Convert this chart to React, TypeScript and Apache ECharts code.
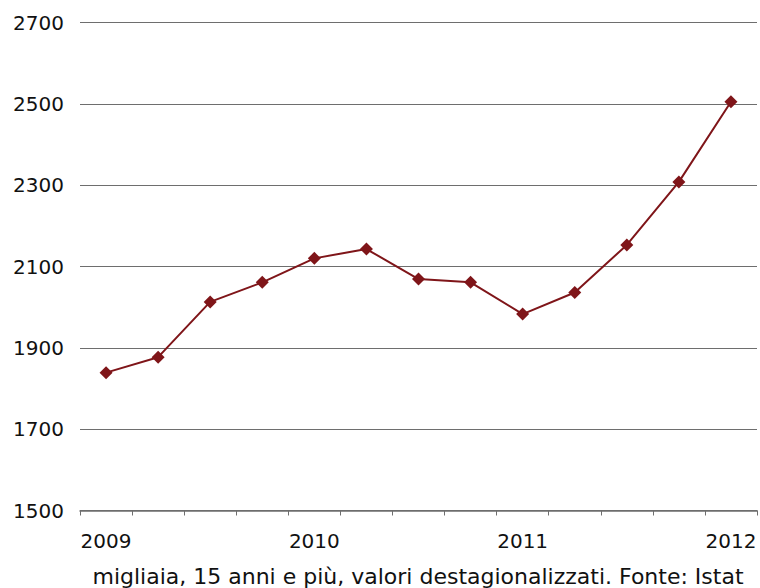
import React, { useEffect, useRef } from "react";
import * as echarts from "echarts";

const quarters = [
  "2009-T1", "2009-T2", "2009-T3", "2009-T4",
  "2010-T1", "2010-T2", "2010-T3", "2010-T4",
  "2011-T1", "2011-T2", "2011-T3", "2011-T4",
  "2012-T1",
];
const values = [1839, 1877, 2013, 2061, 2120, 2143, 2069, 2061, 1983, 2036, 2153, 2308, 2505];
const yMin = 1500;
const yMax = 2700;
const yStep = 200;
const caption = "migliaia, 15 anni e più, valori destagionalizzati. Fonte: Istat";

const FONT = "DejaVu Sans";

export default function App() {
  const ref = useRef<HTMLDivElement>(null);
  useEffect(() => {
    const chart = echarts.init(ref.current!, null, { renderer: "svg" });
    chart.setOption({
      animation: false,
      backgroundColor: "#ffffff",
      grid: { left: 80, right: 3, top: 22.5, bottom: 77.5, containLabel: false },
      xAxis: {
        type: "category",
        data: quarters,
        boundaryGap: true,
        axisLine: { lineStyle: { color: "#6e6e6e", width: 1.5 } },
        axisTick: { show: true, interval: 0, length: 5, inside: false, lineStyle: { color: "#6e6e6e" } },
        axisLabel: {
          interval: 0,
          margin: 20,
          fontFamily: FONT,
          fontSize: 20,
          color: "#111",
          formatter: (v: string) => (v.endsWith("T1") ? v.slice(0, 4) : ""),
        },
      },
      yAxis: {
        type: "value",
        min: yMin,
        max: yMax,
        interval: yStep,
        axisLine: { show: false },
        axisTick: { show: false },
        splitLine: { lineStyle: { color: "#6e6e6e", width: 1 } },
        axisLabel: {
          margin: 16,
          fontFamily: FONT,
          fontSize: 20,
          color: "#111",
          formatter: (v: number) => String(v),
        },
      },
      graphic: [
        {
          type: "text",
          x: 418,
          y: 576,
          style: {
            text: caption,
            fontFamily: FONT,
            fontSize: 22,
            fill: "#111",
            align: "center",
            verticalAlign: "middle",
          },
        },
      ],
      series: [
        {
          type: "line",
          data: values,
          symbol: "diamond",
          symbolSize: 13,
          itemStyle: { color: "#7f1519" },
          lineStyle: { color: "#7f1519", width: 2 },
        },
      ],
    });
    return () => chart.dispose();
  }, []);
  return (
    <div
      ref={ref}
      style={{ position: "fixed", left: 0, top: 0, width: 760, height: 588 }}
    />
  );
}
